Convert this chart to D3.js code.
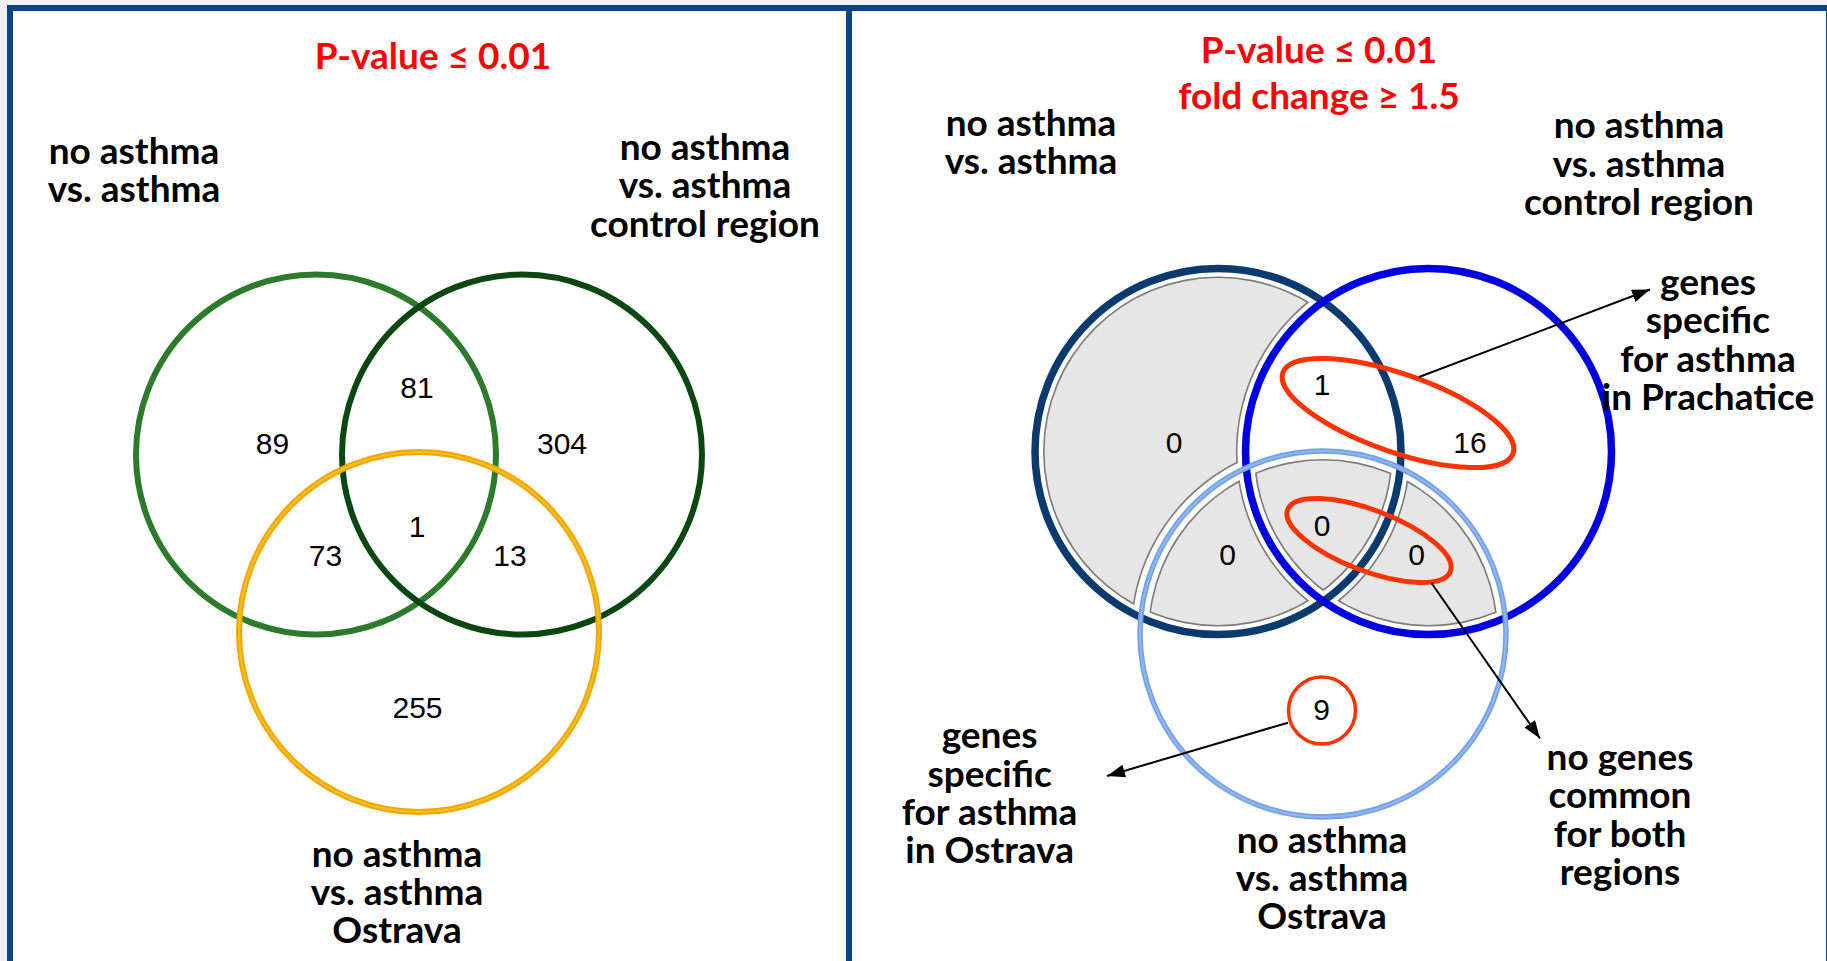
<!DOCTYPE html>
<html>
<head>
<meta charset="utf-8">
<script src="https://cdn.jsdelivr.net/npm/d3@7"></script>
<style>
  html, body { margin: 0; padding: 0; background: #f0f0f0; }
  svg { display: block; }
</style>
</head>
<body>
<div id="chart"></div>
<script>
// ---- data ----
const regionKeys = ["A", "B", "C", "AB", "AC", "BC", "ABC"];
const countsPvalue = [89, 304, 255, 81, 73, 13, 1];
const countsPvalueFold = [0, 16, 9, 1, 0, 0, 0];
const setLabels = [
  ["no asthma", "vs. asthma"],
  ["no asthma", "vs. asthma", "control region"],
  ["no asthma", "vs. asthma", "Ostrava"]
];
const titlePvalue = ["P-value \u2264 0.01"];
const titlePvalueFold = ["P-value \u2264  0.01", "fold change \u2265 1.5"];
// highlighted groups of regions in the second diagram, with their callout text
const calloutRegions = [["AB", "B"], ["ABC", "BC"], ["C"]];
const calloutTexts = [
  ["genes", "specific", "for asthma", "in Prachatice"],
  ["no genes", "common", "for both", "regions"],
  ["genes", "specific", "for asthma", "in Ostrava"]
];

// ---- layout ----
const W = 1827, H = 961;
const lineH = 38.3;
const labelFont = "Lato, 'Open Sans', sans-serif";
const numFont = "'Liberation Sans', Arial, sans-serif";

const panels = [
  {
    title: titlePvalue, titleX: 433, titleY: 69.3,
    counts: countsPvalue,
    centers: [[316, 454.5], [522, 454.5], [419, 632]], r: 180,
    colors: ["#2b7b2b", "#0b4710", "#eea600"], inner: [null, null, "#f9bd1c"],
    widths: [6, 6, 6],
    setPos: [[134, 164], [705, 160], [397, 866.7]],
    numPos: { A: [272.5, 454.3], B: [562, 454.3], C: [417.5, 717.7], AB: [417, 397.7],
              AC: [325.5, 565.7], BC: [510, 565.7], ABC: [417, 536.7] }
  },
  {
    title: titlePvalueFold, titleX: 1319, titleY: 62.7,
    counts: countsPvalueFold,
    centers: [[1218, 451.5], [1428.5, 451.5], [1323, 634]], r: 183,
    colors: ["#0a3a6e", "#0000e0", "#74a0e6"], inner: [null, null, "#8fb6f0"],
    widths: [7.5, 7.5, 5.5],
    setPos: [[1031, 136], [1639, 138.3], [1322, 852.7]],
    numPos: { A: [1174, 452.7], B: [1470, 452.7], C: [1321.5, 720], AB: [1322, 395],
              AC: [1227.5, 565], BC: [1416.5, 565], ABC: [1322, 536] },
    callouts: [
      { shape: [1398, 413, 122, 39, 19.3], sw: 5, from: [1419, 377], to: [1650, 289.5], text: [1708, 295] },
      { shape: [1369, 540.5, 87, 30.5, 20.75], sw: 5, from: [1431.6, 583.3], to: [1540, 738.5], text: [1620, 770] },
      { shape: [1322, 710.5, 33.5, 33.5, 0], sw: 3.5, from: [1288, 722.7], to: [1107, 776], text: [989.6, 748.3] }
    ]
  }
];

const svg = d3.select("#chart").append("svg")
  .attr("width", W).attr("height", H);
const defs = svg.append("defs");

defs.append("marker")
  .attr("id", "arrow")
  .attr("markerUnits", "userSpaceOnUse")
  .attr("markerWidth", 20).attr("markerHeight", 14)
  .attr("refX", 18).attr("refY", 6.5)
  .attr("orient", "auto")
  .append("path")
  .attr("d", "M0,0 L18,6.5 L0,13 Z")
  .attr("fill", "#000");

// page background and frame
svg.append("rect").attr("width", W).attr("height", H).attr("fill", "#f0f0f0");
svg.append("rect")
  .attr("x", 10).attr("y", 8).attr("width", 1819).attr("height", 1000)
  .attr("fill", "#fff").attr("stroke", "#0b4483").attr("stroke-width", 6);
svg.append("line")
  .attr("x1", 849).attr("x2", 849).attr("y1", 8).attr("y2", H)
  .attr("stroke", "#0b4483").attr("stroke-width", 6);

function multiline(g, lines, x, y, opts) {
  const t = g.append("text")
    .attr("x", x).attr("y", y)
    .attr("text-anchor", "middle")
    .attr("font-family", opts.font)
    .attr("font-weight", opts.weight || 700)
    .attr("font-size", opts.size)
    .attr("fill", opts.fill || "#000");
  lines.forEach((l, i) => {
    t.append("tspan").attr("x", x).attr("dy", i === 0 ? 0 : opts.lh).text(l);
  });
  return t;
}

let uid = 0;
// region = inside every set in key, outside every other set; inset pulls the border away from the rings
function drawRegion(g, p, key, inset, fill) {
  let node = g;
  [0, 1, 2].forEach(i => {
    if (key.includes("ABC"[i])) {
      const id = "clip" + (uid++);
      defs.append("clipPath").attr("id", id)
        .append("circle")
        .attr("cx", p.centers[i][0]).attr("cy", p.centers[i][1])
        .attr("r", p.r - inset);
      node = node.append("g").attr("clip-path", `url(#${id})`);
    }
  });
  const mid = "mask" + (uid++);
  const m = defs.append("mask").attr("id", mid)
    .attr("maskUnits", "userSpaceOnUse")
    .attr("x", 0).attr("y", 0).attr("width", W).attr("height", H);
  m.append("rect").attr("width", W).attr("height", H).attr("fill", "#fff");
  [0, 1, 2].forEach(i => {
    if (!key.includes("ABC"[i])) {
      m.append("circle")
        .attr("cx", p.centers[i][0]).attr("cy", p.centers[i][1])
        .attr("r", p.r + inset).attr("fill", "#000");
    }
  });
  node.append("rect").attr("width", W).attr("height", H)
    .attr("fill", fill).attr("mask", `url(#${mid})`);
}

panels.forEach(p => {
  const g = svg.append("g");

  // empty regions are greyed out
  const shade = g.append("g");
  regionKeys.forEach((k, i) => {
    if (p.counts[i] === 0) {
      drawRegion(shade, p, k, 8, "#7c7c7c");
      drawRegion(shade, p, k, 9.6, "#e6e6e6");
    }
  });

  // set rings
  setLabels.forEach((s, i) => {
    g.append("circle")
      .attr("cx", p.centers[i][0]).attr("cy", p.centers[i][1]).attr("r", p.r)
      .attr("fill", "none").attr("stroke", p.colors[i]).attr("stroke-width", p.widths[i]);
    if (p.inner[i]) {
      g.append("circle")
        .attr("cx", p.centers[i][0]).attr("cy", p.centers[i][1]).attr("r", p.r)
        .attr("fill", "none").attr("stroke", p.inner[i]).attr("stroke-width", 2.2);
    }
  });

  // counts
  g.selectAll("text.num")
    .data(regionKeys.map((k, i) => ({ k, v: p.counts[i] })))
    .join("text")
    .attr("class", "num")
    .attr("x", d => p.numPos[d.k][0]).attr("y", d => p.numPos[d.k][1])
    .attr("text-anchor", "middle")
    .attr("font-family", numFont).attr("font-size", 30)
    .attr("fill", "#000")
    .text(d => d.v);

  // set names
  setLabels.forEach((lines, i) => {
    multiline(g, lines, p.setPos[i][0], p.setPos[i][1], { font: labelFont, size: 37, lh: lineH });
  });

  // title
  multiline(g, p.title, p.titleX, p.titleY, { font: labelFont, size: 37, lh: 46.6, fill: "#ff0000" });

  // callouts
  if (p.callouts) {
    p.callouts.forEach((c, i) => {
      const [cx, cy, rx, ry, ang] = c.shape;
      g.append("ellipse")
        .attr("transform", `translate(${cx},${cy}) rotate(${ang})`)
        .attr("rx", rx).attr("ry", ry)
        .attr("fill", "none").attr("stroke", "#ff3300").attr("stroke-width", c.sw);
      g.append("line")
        .attr("x1", c.from[0]).attr("y1", c.from[1])
        .attr("x2", c.to[0]).attr("y2", c.to[1])
        .attr("stroke", "#000").attr("stroke-width", 2)
        .attr("marker-end", "url(#arrow)");
      multiline(g, calloutTexts[i], c.text[0], c.text[1], { font: labelFont, size: 37, lh: lineH });
    });
  }
});
</script>
</body>
</html>
